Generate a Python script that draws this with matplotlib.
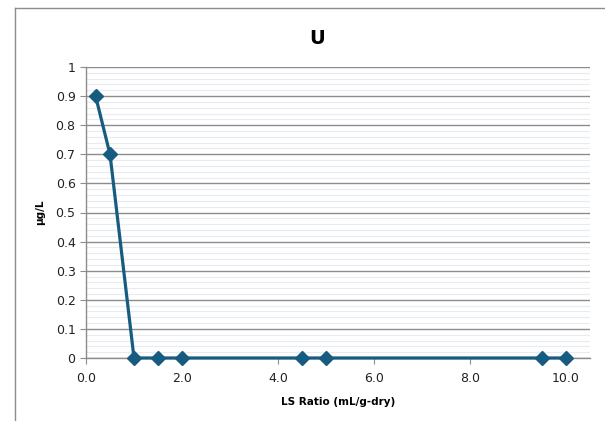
import numpy as np
import matplotlib
matplotlib.use("Agg")
import matplotlib.pyplot as plt
from matplotlib.lines import Line2D

# LS ratio (mL/g-dry) vs concentration (ug/L)
ls_ratio = [0.2, 0.5, 1.0, 1.5, 2.0, 4.5, 5.0, 9.5, 10.0]
conc = [0.9, 0.7, 0.0, 0.0, 0.0, 0.0, 0.0, 0.0, 0.0]

W, H = 605, 421
fig = plt.figure(figsize=(W / 100, H / 100), dpi=100)
ax = fig.add_axes([86 / W, 1 - 358 / H, (590 - 86) / W, (358 - 67) / H])

# outer chart border (cropped at right and bottom in the original)
fig.add_artist(Line2D([15 / W, 15 / W], [0, 1 - 8 / H], transform=fig.transFigure,
                      color="#8c8c8c", lw=1.0))
fig.add_artist(Line2D([15 / W, 1], [1 - 8 / H, 1 - 8 / H], transform=fig.transFigure,
                      color="#8c8c8c", lw=1.0))

line_col = "#175c80"
ax.plot(ls_ratio, conc, "-", color=line_col, lw=2.3, marker="D", ms=7,
        markerfacecolor=line_col, markeredgecolor=line_col, zorder=4, clip_on=False)

ax.set_xlim(0, 10.5)
ax.set_ylim(0, 1)
ax.set_xticks(np.arange(0, 10.1, 2.0))
ax.set_xticklabels([f"{v:.1f}" for v in np.arange(0, 10.1, 2.0)])
ax.set_yticks(np.arange(0, 1.01, 0.1))
ax.set_yticklabels(["0"] + [f"{v:.1f}" for v in np.arange(0.1, 0.95, 0.1)] + ["1"])
ax.set_yticks(np.arange(0, 1.0, 0.02), minor=True)

ax.grid(True, which="minor", axis="y", color="#e6ecf2", lw=0.8, zorder=0)
ax.grid(True, which="major", axis="y", color="#8c8c8c", lw=1.0, zorder=1)
ax.set_axisbelow(True)

for s in ["top", "right"]:
    ax.spines[s].set_visible(False)
for s in ["left", "bottom"]:
    ax.spines[s].set_color("#8c8c8c")
    ax.spines[s].set_linewidth(1.0)

ax.tick_params(axis="both", which="major", length=4, width=0.8, color="#8c8c8c",
               labelsize=9, labelcolor="#222222", direction="out")
ax.tick_params(axis="y", which="minor", length=0)
ax.tick_params(axis="x", pad=6)

fig.text(317 / W, 1 - 38 / H, "U", fontsize=14, fontweight="bold", ha="center", va="center")
ax.set_xlabel("LS Ratio (mL/g-dry)", fontsize=7.5, fontweight="bold", labelpad=9)
ax.set_ylabel("µg/L", fontsize=7.5, fontweight="bold")
ax.yaxis.set_label_coords((45 - 86) / (590 - 86), 0.5)

fig.savefig("out.png", dpi=100)
